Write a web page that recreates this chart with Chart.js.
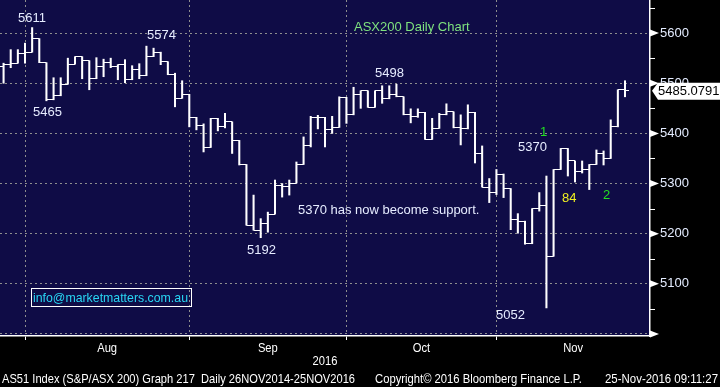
<!DOCTYPE html>
<html>
<head>
<meta charset="utf-8">
<script src="https://cdn.jsdelivr.net/npm/chart.js@4.4.0/dist/chart.umd.min.js"></script>
<style>
html, body { margin: 0; padding: 0; background: #000; }
#grafico { display: block; }
</style>
</head>
<body>
<canvas id="grafico" width="720" height="387"></canvas>
<script>
// Rango de fechas (dias habiles), ultimas 3 columnas vacias
const PRIMER_DIA = '2016-07-27';
const ULTIMO_DIA = '2016-11-30';
const MESES = ['Jan','Feb','Mar','Apr','May','Jun','Jul','Aug','Sep','Oct','Nov','Dec'];

// Precios OHLC
const aperturas = [5533, 5538, 5540, 5560, 5562, 5589, 5541, 5467, 5475, 5498,
    5538, 5553, 5545, 5509, 5533, 5542, 5533, 5537, 5507, 5528,
    5515, 5553, 5562, 5543, 5517, 5470, 5478, 5432, 5415, 5372,
    5430, 5413, 5423, 5386, 5337, 5217, 5207, 5220, 5239, 5297,
    5295, 5301, 5338, 5375, 5432, 5432, 5407, 5412, 5471, 5437,
    5478, 5485, 5452, 5485, 5469, 5477, 5473, 5437, 5433, 5442,
    5388, 5410, 5437, 5443, 5411, 5409, 5442, 5360, 5293, 5282,
    5319, 5290, 5229, 5225, 5180, 5250, 5257, 5155, 5328, 5370,
    5345, 5325, 5328, 5338, 5359, 5350, 5413, 5487];
const maximos = [5540, 5567, 5567, 5580, 5611, 5589, 5541, 5511, 5511, 5550,
    5553, 5553, 5545, 5551, 5548, 5550, 5537, 5547, 5535, 5539,
    5574, 5570, 5562, 5543, 5520, 5505, 5478, 5432, 5419, 5430,
    5430, 5440, 5423, 5386, 5338, 5277, 5230, 5243, 5307, 5300,
    5307, 5343, 5393, 5434, 5436, 5432, 5434, 5473, 5472, 5492,
    5485, 5485, 5485, 5495, 5495, 5498, 5473, 5449, 5449, 5442,
    5430, 5440, 5459, 5443, 5437, 5457, 5442, 5375, 5310, 5328,
    5319, 5290, 5240, 5225, 5250, 5282, 5315, 5328, 5370, 5370,
    5345, 5345, 5338, 5367, 5365, 5427, 5487, 5505];
const minimos = [5500, 5531, 5540, 5540, 5562, 5541, 5465, 5467, 5475, 5498,
    5538, 5509, 5487, 5509, 5513, 5531, 5507, 5501, 5507, 5509,
    5515, 5553, 5537, 5517, 5453, 5470, 5413, 5407, 5363, 5372,
    5405, 5411, 5360, 5337, 5217, 5207, 5192, 5203, 5239, 5273,
    5277, 5301, 5338, 5373, 5409, 5373, 5400, 5412, 5420, 5437,
    5450, 5452, 5452, 5460, 5469, 5473, 5437, 5421, 5432, 5388,
    5388, 5410, 5437, 5411, 5377, 5409, 5341, 5293, 5262, 5278,
    5272, 5208, 5201, 5179, 5180, 5245, 5052, 5155, 5328, 5315,
    5303, 5321, 5288, 5338, 5337, 5350, 5413, 5473];
const cierres = [5538, 5540, 5560, 5562, 5589, 5541, 5467, 5475, 5498, 5538,
    5553, 5545, 5509, 5533, 5542, 5533, 5537, 5507, 5528, 5515,
    5553, 5562, 5543, 5517, 5470, 5478, 5432, 5415, 5372, 5430,
    5413, 5423, 5386, 5337, 5217, 5207, 5220, 5239, 5297, 5295,
    5301, 5338, 5375, 5432, 5432, 5407, 5412, 5471, 5437, 5478,
    5485, 5452, 5485, 5469, 5477, 5473, 5437, 5433, 5442, 5388,
    5410, 5437, 5443, 5411, 5409, 5442, 5360, 5293, 5282, 5319,
    5290, 5229, 5225, 5180, 5250, 5257, 5155, 5328, 5370, 5345,
    5325, 5328, 5338, 5359, 5350, 5413, 5487, 5485.0791];

// Eje Y
const Y_MIN = 4996;
const Y_MAX = 5666;
const ticksY = [5000, 5050, 5100, 5150, 5200, 5250, 5300, 5350, 5400, 5450, 5500, 5550, 5600, 5650];

// Textos sobre el grafico
const notas = [
    { t: '5611', x: 18, y: 18, c: '#e6ecff' },
    { t: '5465', x: 33, y: 112, c: '#e6ecff' },
    { t: '5574', x: 147, y: 35, c: '#e6ecff' },
    { t: 'ASX200 Daily Chart', x: 354, y: 27, c: '#7ee27e' },
    { t: '5498', x: 375, y: 73, c: '#e6ecff' },
    { t: '5192', x: 247, y: 250, c: '#e6ecff' },
    { t: '5370 has now become support.', x: 298, y: 210, c: '#e6ecff' },
    { t: '1', x: 540, y: 132, c: '#22e022' },
    { t: '5370', x: 518, y: 147, c: '#e6ecff' },
    { t: '84', x: 562, y: 198, c: '#f0f020' },
    { t: '2', x: 603, y: 195, c: '#22e022' },
    { t: '5052', x: 496, y: 315, c: '#e6ecff' }
];
const EMAIL = 'info@marketmatters.com.au';
const PIE_1 = 'AS51 Index (S&P/ASX 200) Graph 217  Daily 26NOV2014-25NOV2016';
const PIE_2 = 'Copyright\u00A9 2016 Bloomberg Finance L.P.';
const PIE_3 = '25-Nov-2016 09:11:27';

const FUENTE = "'Liberation Sans', Arial, sans-serif";

// Etiquetas de dias habiles
const etiquetas = [];
const mesDe = [];
for (let d = new Date(PRIMER_DIA + 'T12:00:00'); d <= new Date(ULTIMO_DIA + 'T12:00:00'); d.setDate(d.getDate() + 1)) {
    if (d.getDay() === 0 || d.getDay() === 6) continue;
    etiquetas.push(d.getDate() + ' ' + MESES[d.getMonth()]);
    mesDe.push(d.getMonth());
}
const iniciosMes = [];
mesDe.forEach((m, i) => { if (i > 0 && m !== mesDe[i - 1]) iniciosMes.push(i); });

function marcaTick(lado) {
    const c = document.createElement('canvas');
    c.width = 8; c.height = 1;
    const g = c.getContext('2d');
    g.fillStyle = '#ffffff';
    g.fillRect(lado < 0 ? 0 : 4, 0, 4, 1);
    return c;
}

function textoAjustado(ctx, t, x, y, ancho) {
    const w = ctx.measureText(t).width;
    ctx.save();
    ctx.translate(x, y);
    ctx.scale(ancho / w, 1);
    ctx.fillText(t, 0, 0);
    ctx.restore();
}

function sinPadding(s) {
    s.paddingTop = 0; s.paddingBottom = 0; s.paddingLeft = 0; s.paddingRight = 0;
}

const fondo = {
    id: 'fondo',
    beforeDraw(chart) {
        const { ctx, chartArea: a } = chart;
        ctx.save();
        ctx.fillStyle = '#000';
        ctx.fillRect(0, 0, chart.width, chart.height);
        ctx.fillStyle = '#0f0c46';
        ctx.fillRect(a.left, a.top, a.right - a.left, a.bottom - a.top);
        ctx.restore();
    }
};

const extras = {
    id: 'extras',
    afterDraw(chart) {
        const { ctx, chartArea: a } = chart;
        const xs = chart.scales.x, ys = chart.scales.y;
        ctx.save();

        // marcas del eje derecho
        ctx.fillStyle = '#ffffff';
        ctx.strokeStyle = '#ffffff';
        ctx.lineWidth = 1;
        ticksY.forEach(v => {
            const y = ys.getPixelForValue(v);
            if (v % 100 === 0) {
                ctx.beginPath();
                ctx.moveTo(a.right, y - 3.5);
                ctx.lineTo(a.right + 9, y);
                ctx.lineTo(a.right, y + 3.5);
                ctx.closePath();
                ctx.fill();
            } else {
                ctx.beginPath();
                ctx.moveTo(a.right, Math.round(y) + 0.5);
                ctx.lineTo(a.right + 5, Math.round(y) + 0.5);
                ctx.stroke();
            }
        });

        // ultimo precio
        const ult = cierres[cierres.length - 1];
        const yU = ys.getPixelForValue(ult);
        ctx.fillStyle = '#ffffff';
        ctx.beginPath();
        ctx.moveTo(a.right + 2, yU);
        ctx.lineTo(a.right + 8, yU - 8);
        ctx.lineTo(720, yU - 8);
        ctx.lineTo(720, yU + 9);
        ctx.lineTo(a.right + 8, yU + 9);
        ctx.closePath();
        ctx.fill();
        ctx.fillStyle = '#000';
        ctx.font = '13px ' + FUENTE;
        ctx.textBaseline = 'middle';
        ctx.textAlign = 'left';
        ctx.fillText(ult.toFixed(4), a.right + 8, yU + 1);

        // notas
        ctx.font = '13px ' + FUENTE;
        notas.forEach(n => {
            ctx.fillStyle = n.c;
            ctx.fillText(n.t, n.x, n.y);
        });

        // email
        ctx.strokeStyle = '#ffffff';
        ctx.lineWidth = 1;
        ctx.strokeRect(31.5, 288.5, 160, 18);
        ctx.fillStyle = '#28d6f4';
        textoAjustado(ctx, EMAIL, 33, 298, 155);

        // meses
        ctx.fillStyle = '#ffffff';
        ctx.font = '13px ' + FUENTE;
        ctx.textAlign = 'left';
        iniciosMes.forEach((idx, k) => {
            const x1 = xs.getPixelForValue(idx);
            const x2 = k + 1 < iniciosMes.length ? xs.getPixelForValue(iniciosMes[k + 1]) : a.right;
            const t = MESES[mesDe[idx]];
            const w = ctx.measureText(t).width * 0.86;
            textoAjustado(ctx, t, (x1 + x2) / 2 - w / 2, 348, w);
        });
        const w16 = ctx.measureText('2016').width * 0.86;
        textoAjustado(ctx, '2016', (a.left + a.right) / 2 - w16 / 2, 361, w16);

        // pie
        textoAjustado(ctx, PIE_1, 2, 379, 353);
        textoAjustado(ctx, PIE_2, 375, 379, 207);
        textoAjustado(ctx, PIE_3, 605, 379, 113);

        ctx.restore();
    }
};

new Chart(document.getElementById('grafico'), {
    data: {
        labels: etiquetas,
        datasets: [
            {
                type: 'bar',
                data: etiquetas.map((e, i) => i < maximos.length ? [minimos[i], maximos[i]] : null),
                backgroundColor: '#ffffff',
                barThickness: 1.4,
                order: 3
            },
            {
                type: 'line',
                data: etiquetas.map((e, i) => i < aperturas.length ? aperturas[i] : null),
                showLine: false,
                pointStyle: marcaTick(-1),
                pointRadius: 1,
                order: 2
            },
            {
                type: 'line',
                data: etiquetas.map((e, i) => i < cierres.length ? cierres[i] : null),
                showLine: false,
                pointStyle: marcaTick(1),
                pointRadius: 1,
                order: 1
            }
        ]
    },
    options: {
        responsive: false,
        animation: false,
        events: [],
        layout: { padding: 0, autoPadding: false },
        plugins: { legend: { display: false }, tooltip: { enabled: false } },
        scales: {
            x: {
                type: 'category',
                offset: true,
                afterFit: s => { s.height = 51; sinPadding(s); },
                grid: {
                    offset: false,
                    color: c => iniciosMes.includes(c.index) ? '#8e8e8e' : 'rgba(0,0,0,0)',
                    tickColor: c => iniciosMes.includes(c.index) ? '#ffffff' : 'rgba(0,0,0,0)',
                    tickLength: 4
                },
                border: { color: '#ffffff', width: 1.5, dash: [2, 3] },
                ticks: { display: false }
            },
            y: {
                position: 'right',
                min: Y_MIN,
                max: Y_MAX,
                afterBuildTicks: s => { s.ticks = ticksY.map(v => ({ value: v })); },
                afterFit: s => { s.width = 70; sinPadding(s); },
                grid: {
                    color: c => c.tick && c.tick.value % 100 === 0 ? '#8e8e8e' : 'rgba(0,0,0,0)',
                    tickColor: 'rgba(0,0,0,0)',
                    tickLength: 8
                },
                border: { color: '#ffffff', width: 1.5, dash: [2, 3] },
                ticks: {
                    color: '#e4ecff',
                    font: { family: FUENTE, size: 13 },
                    padding: 2,
                    autoSkip: false,
                    callback: v => (v % 100 === 0 && v > 5000) ? String(v) : ''
                }
            }
        }
    },
    plugins: [fondo, extras]
});
</script>
</body>
</html>
